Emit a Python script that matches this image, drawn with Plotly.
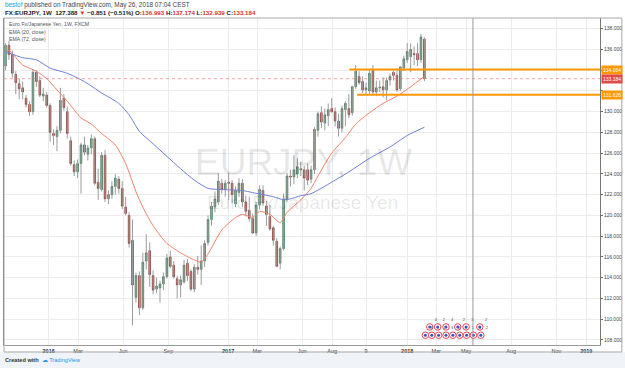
import plotly.graph_objects as go
import pandas as pd

# ---------------- data (weekly EUR/JPY) ----------------
START = "2015-10-05"
open_ = [134.4,136.4,135.5,133.6,132.7,132.3,131.3,130.7,130.0,133.8,
         133.0,131.5,131.6,130.6,127.9,127.6,128.2,131.3,130.0,127.2,
         124.9,124.2,125.0,126.8,125.9,126.5,127.4,123.2,122.5,125.8,
         121.6,122.0,122.8,123.5,122.6,120.8,120.0,117.6,112.1,114.2,
         111.1,115.6,116.6,114.2,112.9,113.0,113.4,114.1,116.0,115.2,
         113.9,113.3,113.6,115.4,114.6,112.9,115.0,114.8,115.6,117.4,
         119.6,120.8,121.3,123.1,122.5,123.2,123.1,121.1,122.2,123.1,
         121.3,120.5,119.7,118.3,121.0,122.4,120.9,119.9,118.8,117.5,
         115.4,116.8,121.6,123.8,123.7,124.0,124.5,124.4,124.4,123.5,
         124.4,128.2,129.9,128.9,129.6,130.3,130.0,129.1,128.4,130.2,
         130.3,129.9,132.4,133.4,132.9,132.1,132.0,134.0,131.9,132.3,
         132.4,132.1,133.05,133.8,133.5,132.2,134.2,135.0,135.3,135.6,
         135.6,135.0,136.993]
high = [136.6,136.8,135.9,133.9,133.2,132.9,131.6,131.0,134.1,134.0,
        133.4,132.3,131.9,130.8,128.3,128.6,132.3,131.7,130.5,127.6,
        125.3,125.4,127.0,127.6,126.8,127.8,127.6,124.5,126.1,126.3,
        122.4,123.3,124.0,123.8,123.3,121.8,120.3,119.6,114.5,114.6,
        116.4,118.2,117.4,114.7,114.0,113.7,114.5,116.3,116.6,115.6,
        114.2,114.2,115.7,115.8,114.8,115.3,116.1,117.1,117.6,120.0,
        121.3,122.3,124.1,123.5,123.4,124.1,123.4,122.8,123.6,123.5,
        121.9,121.8,120.2,121.3,122.9,122.9,121.4,121.0,119.0,117.8,
        117.0,122.1,124.1,124.4,125.8,125.5,125.2,124.8,125.0,124.8,
        128.5,130.0,130.5,130.3,130.8,131.3,130.4,129.8,130.6,131.0,
        131.7,132.5,134.5,133.9,133.4,132.8,134.0,134.5,133.0,133.0,
        133.3,133.3,133.7,134.1,134.2,134.4,135.4,136.6,136.6,136.3,
        136.6,137.5,137.174]
low = [134.0,135.0,133.3,131.7,131.2,131.2,130.4,129.6,129.7,132.4,
       131.4,131.0,130.4,127.1,126.8,126.2,127.9,130.1,127.4,124.8,
       123.8,123.6,122.1,125.8,125.3,125.9,122.9,121.5,122.3,121.3,
       121.1,121.6,122.0,122.1,120.6,120.0,116.9,109.4,111.6,110.4,
       110.9,114.8,113.1,112.4,112.5,111.6,112.8,113.9,114.9,113.9,
       112.0,112.1,113.4,113.7,112.7,112.6,114.3,113.3,115.0,117.1,
       119.0,120.3,121.0,122.1,121.8,121.5,121.2,120.8,121.8,120.8,
       119.9,119.4,118.2,118.0,120.6,120.9,119.0,118.5,117.1,115.0,
       114.8,116.6,121.3,122.8,123.0,123.6,123.8,122.4,122.9,123.1,
       124.0,127.6,128.4,128.2,128.6,129.9,128.6,127.6,128.0,128.6,
       129.4,129.6,132.2,132.6,131.8,131.7,131.7,131.7,131.5,131.9,
       131.4,131.1,132.5,133.0,131.9,132.0,133.9,134.7,133.8,134.5,
       134.4,134.7,132.939]
close = [136.4,135.5,133.7,132.8,132.2,131.9,130.7,130.0,133.8,132.9,
         131.6,131.7,130.6,128.0,127.7,128.2,131.1,130.4,127.9,125.0,
         124.2,125.0,126.8,126.1,126.5,127.4,123.1,122.6,125.8,121.6,
         122.0,122.8,123.6,122.6,120.9,120.2,117.3,113.3,114.2,111.1,
         115.5,116.4,114.3,112.8,113.2,113.4,114.1,115.9,115.1,114.1,
         113.3,113.8,115.2,114.2,112.9,115.0,114.8,115.6,117.3,119.6,
         120.9,121.6,123.3,122.5,123.1,123.1,122.0,122.4,123.1,121.3,
         120.4,119.7,118.3,121.0,122.5,121.2,120.1,118.7,117.6,115.1,
         116.8,121.6,123.8,123.7,124.4,124.7,124.4,123.6,123.4,124.4,
         128.3,129.8,129.0,129.7,130.2,130.0,129.1,128.4,130.3,130.8,
         129.7,132.4,133.9,132.8,132.1,132.3,133.7,131.9,132.3,132.35,
         132.1,133.0,133.4,133.5,132.1,134.3,135.1,135.8,136.0,135.5,
         135.0,137.2,133.184]

# EMA lines, values at given week numbers
ema20_week = [0,1,5,9,12,15,18,22,25,28,32,35,38,40,43,47,51,55,57,59,63,67,69,72,74,77,80,82,86,89,91,95,99,102,106,110,114,118,122]
ema20_val = [135.8,135.9,134.5,133.9,133.2,132.1,131.0,129.4,128.8,127.9,126.8,125.0,122.3,120.8,119.0,117.3,116.4,115.7,115.5,116.3,
             118.6,119.8,120.1,119.8,120.4,120.1,119.3,120.3,121.5,122.6,123.8,126.0,127.5,128.8,129.9,130.8,131.5,132.4,133.4]
ema72_week = [0,5,9,13,18,23,28,33,36,39,43,47,51,55,59,63,69,72,78,81,83,86,89,95,100,106,112,117,122]
ema72_val = [135.8,135.2,135.0,134.2,133.7,132.9,131.8,130.8,129.7,128.1,126.9,125.7,124.5,123.4,122.6,122.5,122.4,122.2,121.8,121.5,
             121.6,121.9,122.1,123.2,124.2,125.5,126.6,127.7,128.5]

tick_dates = ["2016-01-01","2016-03-01","2016-06-01","2016-09-01","2017-01-01","2017-03-01","2017-06-01","2017-08-01",
              "2017-10-09","2018-01-01","2018-03-01","2018-05-01","2018-08-01","2018-11-01","2019-01-01"]
tick_text = ["<b>2016</b>","Mar","Jun","Sep","<b>2017</b>","Mar","Jun","Aug","9","<b>2018</b>","Mar","May","Aug","Nov","<b>2019</b>"]
y_ticks = list(range(108, 139, 2))
y_hidden_labels = [132, 134]   # covered by the price boxes in the reference

level_high = 134.064
level_high_start = "2017-09-05"
level_low = 131.626
level_low_start = "2017-09-21"
last_price = 133.184
cursor_date = "2018-05-15"

event_top_dates = ["2018-02-16","2018-03-04","2018-03-21","2018-04-14","2018-05-01","2018-05-29"]
event_top_count = ["4","2","4","2","3","2"]
event_bot_dates = ["2018-02-07","2018-02-20","2018-03-06","2018-03-21","2018-04-04","2018-04-18","2018-05-02","2018-05-16","2018-05-31"]
event_bot_count = ["8","1","2","3","2","4","1","3","2"]
event_top_level = 109.25
event_bot_level = 108.45

X_RANGE = ["2015-10-02", "2019-01-29"]
Y_RANGE = [107.51, 139.03]

# ---------------- figure ----------------
dates = pd.date_range(START, periods=len(close), freq="7D")
FONT = "Liberation Sans, Arial, sans-serif"

fig = go.Figure()

# wicks
wx, wy = [], []
for d, h, l in zip(dates, high, low):
    wx += [d, d, None]
    wy += [l, h, None]
fig.add_trace(go.Scatter(x=wx, y=wy, mode="lines", line=dict(color="#9b9b9b", width=1),
                         hoverinfo="skip", showlegend=False))

# bodies
body_hi = [max(o, c) for o, c in zip(open_, close)]
body_lo = [min(o, c) for o, c in zip(open_, close)]
fig.add_trace(go.Candlestick(
    x=dates, open=open_, high=body_hi, low=body_lo, close=close,
    increasing=dict(fillcolor="#62ad82", line=dict(color="#225437", width=0.6)),
    decreasing=dict(fillcolor="#e0503e", line=dict(color="#5b1a13", width=0.6)),
    whiskerwidth=0, showlegend=False, hoverinfo="skip"))

# EMAs
fig.add_trace(go.Scatter(x=[dates[i] for i in ema20_week], y=ema20_val, mode="lines",
                         line=dict(color="#f0806a", width=1, shape="spline", smoothing=0.6),
                         showlegend=False, hoverinfo="skip"))
fig.add_trace(go.Scatter(x=[dates[i] for i in ema72_week], y=ema72_val, mode="lines",
                         line=dict(color="#6f7fd6", width=1, shape="spline", smoothing=0.6),
                         showlegend=False, hoverinfo="skip"))

# event markers
for ev_dates, ev_count, ev_level in [(event_top_dates, event_top_count, event_top_level),
                                     (event_bot_dates, event_bot_count, event_bot_level)]:
    fig.add_trace(go.Scatter(x=ev_dates, y=[ev_level]*len(ev_dates), mode="markers+text",
                             text=ev_count, textposition="top right",
                             textfont=dict(size=4, color="#444", family=FONT),
                             marker=dict(symbol="circle", size=6.5, color="white", line=dict(color="#e8455a", width=1)),
                             showlegend=False, hoverinfo="skip", cliponaxis=False))
fig.add_trace(go.Scatter(x=event_top_dates + event_bot_dates,
                         y=[event_top_level]*len(event_top_dates) + [event_bot_level]*len(event_bot_dates),
                         mode="markers", marker=dict(symbol="circle", size=3, color="#3f51b5"),
                         showlegend=False, hoverinfo="skip", cliponaxis=False))

shapes = []
# last price dotted line
shapes.append(dict(type="line", xref="paper", yref="y", x0=0, x1=1, y0=last_price, y1=last_price,
                   line=dict(color="rgba(235,110,100,0.6)", width=1, dash="dot")))
# orange levels
shapes.append(dict(type="line", xref="x", yref="y", x0=level_high_start, x1=X_RANGE[1], y0=level_high, y1=level_high,
                   line=dict(color="#ff9800", width=2)))
shapes.append(dict(type="line", xref="x", yref="y", x0=level_low_start, x1=X_RANGE[1], y0=level_low, y1=level_low,
                   line=dict(color="#ff9800", width=2)))
# vertical cursor line
shapes.append(dict(type="line", xref="x", yref="paper", x0=cursor_date, x1=cursor_date, y0=0, y1=1,
                   line=dict(color="#9a9a9a", width=1)))
# bottom gray strip and frame
shapes.append(dict(type="rect", xref="paper", yref="paper", x0=-0.01, x1=1.05, y0=-0.08, y1=-0.0214,
                   fillcolor="#f0f3f7", line=dict(width=0), layer="below"))
shapes.append(dict(type="rect", xref="paper", yref="paper", x0=0, x1=1.0367, y0=-0.0214, y1=1,
                   fillcolor="rgba(0,0,0,0)", line=dict(color="#a8a8a8", width=1)))

annotations = []
# header
annotations.append(dict(xref="paper", yref="paper", x=-0.002, y=1.0398, xanchor="left", yanchor="middle",
                        showarrow=False, align="left",
                        text="<span style='color:#2f96d8'>bestof</span> published on TradingView.com, May 26, 2018 07:04 CEST",
                        font=dict(size=6.4, color="#444", family=FONT)))
annotations.append(dict(xref="paper", yref="paper", x=-0.002, y=1.0153, xanchor="left", yanchor="middle",
                        showarrow=False, align="left",
                        text="<b>FX:EURJPY, 1W  127.388 <span style='color:#d9352b'>▼</span> −0.851 (−0.51%) "
                             "O:<span style='color:#d9352b'>136.993</span> H:<span style='color:#d9352b'>137.174</span> "
                             "L:<span style='color:#d9352b'>132.939</span> C:<span style='color:#d9352b'>133.184</span></b>",
                        font=dict(size=6.2, color="#222", family=FONT)))
# chart legend
for yy, txt in [(0.9817, "Euro Fx/Japanese Yen, 1W, FXCM"), (0.9587, "EMA (20, close)"), (0.9373, "EMA (72, close)")]:
    annotations.append(dict(xref="paper", yref="paper", x=0.005, y=yy, xanchor="left", yanchor="middle",
                            showarrow=False, text=txt, font=dict(size=5.2, color="#555", family=FONT)))
# watermark
annotations.append(dict(xref="paper", yref="paper", x=0.502, y=0.557, xanchor="center", yanchor="middle",
                        showarrow=False, text="EURJPY, 1W", font=dict(size=37, color="rgba(0,0,0,0.1)", family=FONT)))
annotations.append(dict(xref="paper", yref="paper", x=0.5, y=0.437, xanchor="center", yanchor="middle",
                        showarrow=False, text="Euro Fx/Japanese Yen", font=dict(size=19, color="rgba(0,0,0,0.1)", family=FONT)))
# price labels on axis
for val, col in [(level_high, "#ff9800"), (last_price, "#e04a4a"), (level_low, "#ff9800")]:
    annotations.append(dict(xref="paper", yref="y", x=1.0017, y=val, xanchor="left", yanchor="middle",
                            showarrow=False, text=f"{val:.3f}", bgcolor=col, borderpad=1,
                            font=dict(size=5, color="white", family=FONT)))
# footer
annotations.append(dict(xref="paper", yref="paper", x=-0.0017, y=-0.0459, xanchor="left", yanchor="middle",
                        showarrow=False,
                        text="<b>Created with</b>  <span style='color:#2196f3'>☁ TradingView</span>",
                        font=dict(size=5.6, color="#333", family=FONT)))

y_text = ["" if v in y_hidden_labels else f"{v:.3f}" for v in y_ticks]

fig.update_layout(
    width=625, height=368, autosize=False,
    margin=dict(l=3, r=23, t=18, b=23),
    paper_bgcolor="white", plot_bgcolor="white",
    shapes=shapes, annotations=annotations,
    showlegend=False,
    xaxis=dict(type="date", range=X_RANGE, tickvals=tick_dates, ticktext=tick_text,
               tickfont=dict(size=5.5, color="#333", family=FONT), ticks="", showgrid=True,
               gridcolor="#ececec", gridwidth=1, showline=True, linecolor="#9a9a9a", linewidth=1,
               rangeslider=dict(visible=False), zeroline=False, fixedrange=True),
    yaxis=dict(side="right", range=Y_RANGE, tickvals=y_ticks, ticktext=y_text,
               tickfont=dict(size=5, color="#444", family=FONT), ticks="outside", ticklen=2,
               tickcolor="#666", showgrid=True, gridcolor="#ececec", gridwidth=1,
               showline=True, linecolor="#777", linewidth=1, mirror=True, zeroline=False, fixedrange=True),
)

fig.write_html("out.html")
